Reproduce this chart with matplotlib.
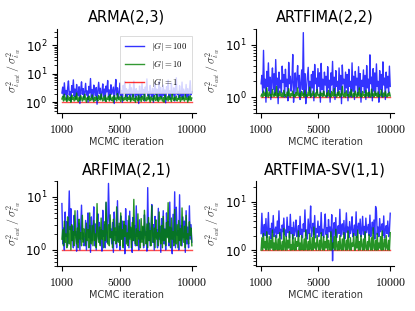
import numpy as np
import matplotlib
matplotlib.use('Agg')
import matplotlib.pyplot as plt
from matplotlib.lines import Line2D
from matplotlib.ticker import FuncFormatter, LogLocator, NullFormatter

plt.rcParams['mathtext.fontset'] = 'cm'
plt.rcParams['font.family'] = 'DejaVu Sans'

titles = ['ARMA(2,3)', 'ARTFIMA(2,2)', 'ARFIMA(2,1)', 'ARTFIMA-SV(1,1)']
xticks = [1000, 5000, 10000]
labels = [r'$|G| = 100$', r'$|G| = 10$', r'$|G| = 1$']

# |G| = 100 traces
blue_arma = [2.1, 3.4, 1.5, 4.8, 1.9, 2.6, 1.2, 3.1, 5.6, 1.8, 2.4, 1.1, 3.8, 2.2, 6.1, 1.6,
             2.9, 1.3, 4.2, 2.0, 1.7, 3.5, 0.9, 2.7, 5.2, 1.9, 3.0, 1.4, 2.3, 4.6, 1.8, 2.5,
             1.0, 3.6, 2.1, 6.8, 1.5, 2.8, 1.2, 4.0, 2.4, 1.7, 3.3, 0.85, 2.6, 5.0, 2.0, 3.1,
             1.3, 2.2, 4.4, 1.6, 2.9, 1.1, 3.7, 2.3, 5.8, 1.5, 2.7, 1.2, 4.1, 1.9, 2.5, 3.4,
             0.9, 2.8, 6.3, 1.8, 3.2, 1.4, 2.1, 4.7, 1.7, 2.6, 1.0, 3.9, 2.2, 5.4, 1.6, 3.0,
             1.4, 2.7, 1.9, 4.3, 1.2, 3.2, 2.0, 1.6, 5.5, 2.3, 1.3, 3.0, 1.8, 2.5, 0.9, 3.7,
             2.1, 1.5, 4.9, 1.9, 2.8, 1.1, 3.4, 2.2, 6.6, 1.7, 2.4, 1.3, 3.9, 2.0, 1.6, 3.1,
             1.0, 2.6, 4.5, 1.8, 2.9, 1.2, 2.3, 5.3, 1.6, 3.3, 1.4, 2.0, 4.0, 1.7, 2.7, 0.95,
             3.5, 2.2, 6.0, 1.5, 2.5, 1.3, 4.6, 2.1, 1.8, 3.2, 1.1, 2.8, 7.2, 1.9, 2.4, 1.4,
             3.8, 2.0, 1.6, 5.1, 1.3, 2.9, 2.2, 1.7, 4.2, 1.5, 3.0, 1.2, 2.6, 5.7, 1.8, 2.3]
blue_artfima = [1.8, 2.6, 1.2, 7.8, 1.5, 2.2, 0.8, 3.1, 1.6, 4.5, 1.3, 2.4, 0.9, 2.0, 3.6, 1.4,
                2.8, 1.1, 5.2, 1.7, 2.3, 0.75, 3.0, 1.5, 2.1, 1.2, 3.9, 1.9, 2.7, 1.0, 3.4, 1.6,
                2.2, 0.85, 4.6, 1.8, 2.5, 1.3, 2.0, 6.5, 0.8, 1.7, 2.9, 1.2, 2.3, 4.0, 1.5, 2.6,
                0.9, 1.9, 3.3, 1.4, 17.0, 1.1, 2.8, 0.75, 1.6, 2.4, 3.7, 1.3, 2.0, 1.0, 2.7, 1.5,
                3.1, 0.85, 4.2, 1.8, 2.3, 1.2, 3.5, 1.6, 2.9, 0.8, 4.4, 1.4, 2.2, 1.1, 3.0, 1.7,
                2.5, 1.0, 3.8, 1.5, 2.1, 0.8, 2.9, 1.7, 4.8, 1.3, 2.4, 0.9, 3.2, 1.6, 2.0, 1.1,
                3.6, 1.4, 2.6, 0.75, 4.1, 1.8, 2.2, 1.2, 3.0, 1.5, 2.7, 0.85, 3.4, 1.6, 2.0, 1.0,
                4.5, 1.3, 2.5, 0.9, 3.1, 1.7, 2.3, 1.1, 3.8, 1.4, 2.8, 0.8, 2.1, 1.6, 3.3, 1.2,
                2.6, 0.9, 4.0, 1.5, 2.2, 1.0, 6.4, 1.8, 2.4, 0.85, 3.5, 1.3, 2.9, 1.1, 4.3, 1.6,
                2.0, 0.8, 3.2, 1.4, 2.7, 1.0, 4.7, 1.7, 2.3, 0.9, 3.0, 1.5, 2.5, 1.2, 3.9, 1.6]
blue_arfima = [7.5, 1.3, 2.6, 1.0, 5.2, 1.8, 3.4, 1.2, 3.0, 13.0, 2.4, 6.0, 1.5, 2.8, 1.1, 4.5,
               1.9, 2.2, 0.95, 5.5, 1.4, 3.2, 1.0, 2.6, 7.0, 1.6, 2.1, 1.2, 1.3, 3.6, 1.0, 2.5,
               5.0, 1.7, 2.9, 0.9, 4.2, 1.5, 2.3, 6.5, 1.2, 3.1, 1.0, 2.7, 4.8, 1.6, 3.3, 1.3,
               2.4, 0.95, 5.6, 1.8, 3.0, 1.1, 7.8, 1.4, 2.6, 18.0, 4.0, 1.7, 2.5, 1.3, 3.3, 0.9,
               5.2, 1.9, 2.2, 1.1, 8.5, 1.5, 2.8, 1.0, 4.4, 1.6, 3.5, 1.2, 3.0, 0.85, 6.0, 2.0,
               1.4, 3.6, 1.1, 5.4, 1.7, 2.5, 0.9, 4.1, 1.5, 2.9, 1.2, 6.8, 1.8, 2.3, 1.0, 3.7,
               1.4, 2.2, 1.6, 2.7, 1.1, 4.6, 1.9, 2.2, 0.95, 15.0, 1.5, 3.2, 1.2, 2.6, 7.2, 1.4,
               3.0, 1.0, 4.3, 1.7, 2.4, 1.1, 6.1, 1.6, 2.8, 0.9, 3.9, 1.5, 5.5, 1.3, 2.5, 1.0,
               5.0, 1.8, 3.4, 1.2, 8.0, 1.6, 2.6, 0.85, 4.7, 1.4, 12.5, 1.1, 6.4, 1.9, 2.3, 1.0,
               11.0, 1.5, 2.9, 1.2, 4.2, 1.7, 3.5, 0.9, 5.5, 1.3, 2.7, 1.1, 6.8, 1.6, 3.0, 1.4]
blue_sv = [2.2, 5.8, 1.9, 2.6, 3.4, 2.0, 4.5, 1.8, 2.4, 6.0, 2.1, 2.8, 1.7, 3.6, 2.3, 5.2,
           1.9, 2.5, 3.0, 1.8, 4.0, 2.2, 6.5, 2.0, 2.7, 1.7, 3.3, 2.4, 4.6, 2.1, 2.6, 1.9,
           4.8, 2.3, 3.1, 1.8, 5.5, 2.2, 2.9, 1.7, 3.8, 2.0, 2.5, 4.2, 1.9, 2.3, 3.2, 1.9,
           5.0, 2.1, 2.7, 1.8, 3.5, 2.4, 6.8, 2.0, 2.6, 1.7, 4.4, 2.2, 3.0, 8.2, 1.9, 2.5,
           3.6, 2.1, 5.2, 1.8, 2.8, 2.3, 4.0, 1.9, 3.1, 2.2, 6.0, 2.0, 2.7, 1.8, 3.4, 5.6,
           2.1, 2.9, 1.8, 4.3, 2.4, 3.0, 1.9, 5.4, 0.6, 2.6, 3.7, 2.0, 4.7, 1.8, 2.5, 3.2,
           2.2, 7.0, 1.9, 2.8, 3.5, 2.1, 4.1, 1.7, 2.6, 5.9, 2.3, 3.0, 1.8, 3.9, 2.2, 2.7,
           4.9, 1.9, 2.4, 3.3, 2.0, 6.2, 1.8, 2.9, 3.6, 2.2, 4.4, 1.9, 2.5, 5.0, 2.1, 3.1,
           1.8, 4.6, 2.3, 2.8, 3.4, 2.0, 5.3, 1.9, 2.6, 3.8, 2.2, 4.2, 1.7, 8.0, 6.6, 2.1,
           3.0, 1.9, 4.5, 2.4, 2.8, 3.5, 2.0, 5.1, 1.8, 2.6, 3.2, 2.2, 4.0, 1.9, 2.5, 5.8]

# |G| = 10 traces
green_arma = [1.3, 1.6, 1.1, 1.9, 1.2, 1.4, 1.05, 1.7, 1.3, 1.15, 1.5, 1.0, 1.8, 1.25, 1.45, 1.1,
              1.6, 1.2, 2.1, 1.3, 1.05, 1.5, 1.15, 1.7, 1.35, 1.1, 1.55, 1.2, 1.9, 1.3, 1.0, 1.45,
              1.25, 1.65, 1.1, 1.4, 1.2, 1.8, 1.3, 1.05, 1.5, 1.15, 1.6, 1.25, 1.1, 1.7, 1.35, 1.2,
              1.95, 1.3, 1.1, 1.5, 1.2, 1.75, 1.05, 1.4, 1.25, 1.6, 1.1, 1.85, 1.3, 1.15, 1.5, 1.0,
              1.7, 1.25, 1.4, 1.1, 2.0, 1.3, 1.2, 1.55, 1.05, 1.65, 1.3, 1.15, 1.45, 1.2, 1.8, 1.3,
              1.1, 1.5, 1.25, 1.7, 1.05, 1.4, 1.2, 1.9, 1.15, 1.35, 1.0, 1.6, 1.3, 1.1, 1.75, 1.2,
              1.45, 1.05, 1.65, 1.3, 1.15, 2.05, 1.25, 1.1, 1.5, 1.2, 1.8, 1.35, 1.0, 1.55, 1.2, 1.4,
              1.1, 1.7, 1.3, 1.15, 1.9, 1.25, 1.05, 1.5, 1.2, 1.6, 1.35, 1.1, 1.45, 1.0, 1.8, 1.3,
              1.2, 1.55, 1.1, 1.7, 1.25, 1.4, 1.05, 1.95, 1.3, 1.15, 1.5, 1.2, 1.65, 1.1, 1.35, 1.25,
              1.75, 1.05, 1.45, 1.2, 1.6, 1.3, 1.1, 1.85, 1.25, 1.4, 1.0, 1.55, 1.2, 1.7, 1.15, 1.4]
green_artfima = [1.05, 1.15, 1.0, 1.3, 1.08, 1.2, 1.02, 1.5, 1.1, 1.0, 1.25, 1.06, 1.12, 1.0, 1.4, 1.1,
                 1.03, 1.2, 1.07, 1.6, 1.0, 1.15, 1.05, 1.3, 1.1, 1.02, 1.2, 1.0, 1.35, 1.08, 1.12, 1.0,
                 1.25, 1.05, 1.45, 1.1, 1.0, 1.18, 1.06, 1.3, 1.02, 1.12, 1.0, 1.22, 1.07, 1.5, 1.1, 1.03,
                 1.2, 1.0, 1.28, 1.08, 1.15, 1.0, 1.35, 1.05, 1.1, 1.02, 1.25, 1.08, 1.55, 1.0, 1.15, 1.06,
                 1.3, 1.1, 1.0, 1.2, 1.04, 1.4, 1.08, 1.12, 1.0, 1.25, 1.06, 1.18, 1.02, 1.3, 1.1, 1.05,
                 1.0, 1.2, 1.07, 1.35, 1.02, 1.15, 1.0, 1.28, 1.1, 1.04, 1.45, 1.06, 1.12, 1.0, 1.22, 1.08,
                 1.3, 1.0, 1.15, 1.05, 1.6, 1.1, 1.02, 1.2, 1.0, 1.32, 1.07, 1.12, 1.0, 1.25, 1.05, 1.4,
                 1.08, 1.0, 1.18, 1.03, 1.3, 1.1, 1.0, 1.22, 1.06, 1.5, 1.02, 1.15, 1.0, 1.28, 1.08, 1.12,
                 1.0, 1.35, 1.05, 1.2, 1.02, 1.25, 1.1, 1.0, 1.42, 1.06, 1.15, 1.0, 1.3, 1.08, 1.18, 1.02,
                 1.26, 1.0, 1.12, 1.05, 1.38, 1.1, 1.0, 1.2, 1.04, 1.3, 1.08, 1.0, 1.16, 1.06, 1.24, 1.05]
green_arfima = [1.6, 2.4, 1.2, 3.5, 1.4, 2.0, 1.1, 4.2, 1.8, 1.3, 2.8, 1.0, 3.0, 1.5, 2.2, 1.2,
                5.5, 1.7, 1.3, 2.6, 1.1, 3.8, 1.6, 2.1, 1.2, 4.5, 1.4, 2.5, 1.9, 1.2, 3.2, 1.5,
                2.4, 1.1, 5.0, 1.7, 1.3, 2.9, 1.2, 3.6, 1.5, 2.0, 1.1, 7.5, 1.8, 1.4, 2.7, 1.2,
                4.0, 1.6, 2.3, 1.1, 3.4, 1.5, 8.0, 1.9, 1.3, 3.0, 1.2, 4.6, 1.7, 2.2, 1.1, 3.8,
                1.5, 2.6, 1.3, 6.5, 1.9, 1.4, 3.2, 1.2, 5.0, 1.6, 2.4, 1.1, 3.5, 1.8, 2.9, 1.3,
                2.1, 1.2, 4.4, 1.6, 2.7, 1.1, 3.3, 1.5, 9.0, 1.8, 1.3, 2.5, 1.2, 4.8, 1.6, 2.2,
                1.1, 3.9, 1.4, 2.8, 1.2, 5.6, 1.7, 1.3, 3.1, 1.1, 4.1, 1.5, 2.3, 1.2, 6.8, 1.9,
                1.4, 2.6, 1.1, 3.7, 1.6, 2.1, 1.2, 5.2, 1.8, 1.3, 2.9, 1.1, 4.3, 1.5, 2.4, 1.2,
                3.3, 1.7, 7.8, 1.4, 2.7, 1.1, 4.0, 1.6, 2.2, 1.2, 5.8, 1.8, 1.3, 3.0, 1.1, 3.6,
                1.5, 2.5, 1.2, 6.2, 1.7, 1.4, 2.8, 1.1, 4.5, 1.6, 2.0, 1.3, 3.4, 1.9, 2.6, 1.2]
green_sv = [1.0, 1.8, 1.0, 2.2, 1.1, 1.5, 1.0, 2.4, 1.2, 1.0, 1.9, 1.0, 1.6, 1.1, 2.6, 1.0,
            1.4, 1.0, 2.0, 1.2, 1.0, 1.7, 1.0, 2.3, 1.1, 1.0, 1.5, 1.0, 2.8, 1.2, 1.0, 1.9,
            1.0, 1.6, 1.1, 2.4, 1.0, 1.3, 1.0, 2.1, 1.1, 1.0, 1.8, 1.0, 1.5, 1.2, 2.5, 1.0,
            1.4, 1.0, 2.0, 1.1, 1.0, 1.7, 1.0, 2.6, 1.2, 1.0, 1.5, 1.0, 2.2, 1.1, 1.0, 1.8,
            1.0, 3.0, 1.1, 1.4, 1.0, 2.0, 1.2, 1.0, 1.6, 1.0, 2.3, 1.1, 1.0, 1.9, 1.0, 1.5,
            1.1, 2.1, 1.0, 1.6, 1.2, 1.0, 2.4, 1.0, 1.4, 1.1, 1.9, 1.0, 2.7, 1.2, 1.0, 1.5,
            1.0, 2.0, 1.1, 1.0, 1.7, 1.0, 2.3, 1.2, 1.0, 1.6, 1.0, 2.5, 1.1, 1.0, 1.8, 1.0,
            1.4, 1.2, 2.2, 1.0, 1.0, 1.9, 1.1, 2.6, 1.0, 1.5, 1.0, 2.0, 1.2, 1.0, 1.7, 1.0,
            2.4, 1.1, 1.0, 1.5, 1.0, 2.1, 1.2, 1.0, 1.8, 1.0, 2.9, 1.1, 1.0, 1.6, 1.0, 2.2,
            1.0, 1.4, 1.1, 1.9, 1.0, 2.5, 1.0, 1.2, 1.7, 1.0, 2.0, 1.1, 1.0, 1.6, 1.0, 2.3]

# |G| = 1 traces (flat at 1)
red_arma = [1.0, 1.0, 1.0, 1.0, 1.0]
red_artfima = [1.0, 1.0, 1.0, 1.0, 1.0]
red_arfima = [1.0, 1.0, 1.0, 1.0, 1.0]
red_sv = [1.0, 1.0, 1.0, 1.0, 1.0]

blues = [blue_arma, blue_artfima, blue_arfima, blue_sv]
greens = [green_arma, green_artfima, green_arfima, green_sv]
reds = [red_arma, red_artfima, red_arfima, red_sv]
ylims = [(0.42, 380), (0.5, 20), (0.5, 20), (0.47, 27)]

fig = plt.figure(figsize=(4.15, 3.11), dpi=100)
positions = [[0.137, 0.637, 0.335, 0.27], [0.617, 0.637, 0.333, 0.27],
             [0.137, 0.145, 0.335, 0.273], [0.617, 0.145, 0.333, 0.273]]

for i in range(4):
    ax = fig.add_axes(positions[i])
    # red first so it sits underneath, like in the original
    for vals, col, a, z in [(reds[i], 'red', 0.7, 1),
                            (blues[i], 'blue', 0.8, 2),
                            (greens[i], 'green', 0.85, 3)]:
        x = np.linspace(1000, 10000, len(vals))
        ax.plot(x, vals, color=col, lw=1.0, alpha=a, zorder=z)
    ax.set_yscale('log')
    ax.set_ylim(*ylims[i])
    ax.set_xlim(650, 10280)
    ax.set_xticks(xticks)
    ax.xaxis.set_major_formatter(FuncFormatter(lambda v, p: r'$%d$' % v))
    ax.yaxis.set_major_locator(LogLocator(base=10))
    ax.yaxis.set_minor_locator(LogLocator(base=10, subs=np.arange(2, 10)))
    ax.yaxis.set_minor_formatter(NullFormatter())
    ax.spines['top'].set_visible(False)
    ax.spines['right'].set_visible(False)
    ax.tick_params(labelsize=8.5, width=0.8, length=3.5)
    ax.tick_params(which='minor', width=0.6, length=2)
    ax.set_title(titles[i], fontsize=10.5, pad=5)
    ax.set_xlabel('MCMC iteration', fontsize=7, labelpad=1, color='#333333')
    ax.set_ylabel(r'$\sigma^2_{\hat{\iota}_{aut}}\,/\,\sigma^2_{\hat{\iota}_{w}}$', fontsize=8.5,
                  labelpad=1, color='#333333')
    if i == 0:
        handles = [Line2D([], [], color=c, lw=1.0, alpha=0.8) for c in ['blue', 'green', 'red']]
        leg = ax.legend(handles, labels, loc='upper right', fontsize=6.3, frameon=True,
                        fancybox=False, handlelength=2.2, borderpad=0.5, labelspacing=0.55,
                        bbox_to_anchor=(1.0, 0.97))
        leg.get_frame().set_linewidth(0.6)

fig.savefig('out.png', dpi=100)
